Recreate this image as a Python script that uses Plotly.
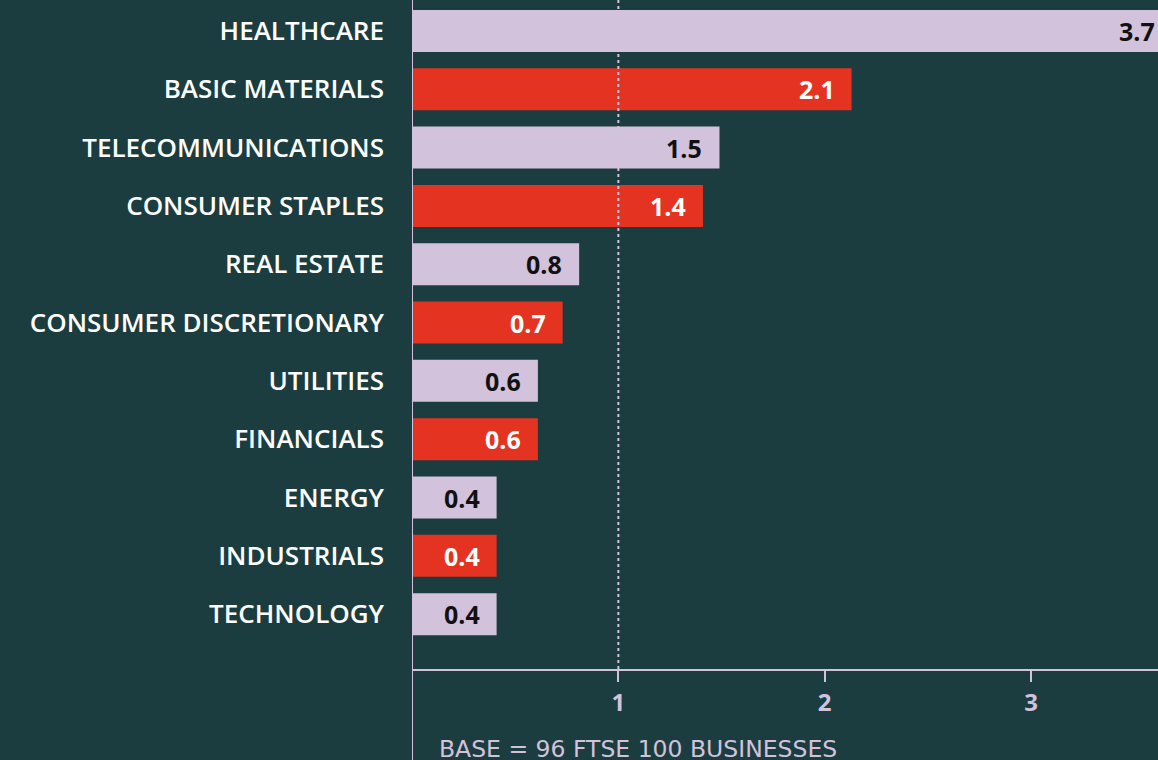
import plotly.graph_objects as go

# sector figures
sectors = ["HEALTHCARE", "BASIC MATERIALS", "TELECOMMUNICATIONS", "CONSUMER STAPLES",
           "REAL ESTATE", "CONSUMER DISCRETIONARY", "UTILITIES", "FINANCIALS",
           "ENERGY", "INDUSTRIALS", "TECHNOLOGY"]
values = [3.7, 2.13, 1.49, 1.41, 0.81, 0.73, 0.61, 0.61, 0.41, 0.41, 0.41]
labels = ["3.7", "2.1", "1.5", "1.4", "0.8", "0.7", "0.6", "0.6", "0.4", "0.4", "0.4"]
ticks = [1, 2, 3]

BG = "#1b3d40"
LAV = "#d3c2dc"
RED = "#e53321"
XMAX = 3.615
FONT = "Open Sans"
WIDE = "DejaVu Sans"

bar_colors = [LAV if i % 2 == 0 else RED for i in range(len(sectors))]
text_colors = ["#111111" if i % 2 == 0 else "white" for i in range(len(sectors))]

fig = go.Figure()
fig.add_trace(go.Bar(
    x=values, y=sectors, orientation="h",
    marker=dict(color=bar_colors, line_width=0),
    width=0.72, hoverinfo="skip",
))

# value labels inside the bar ends
for s, v, lab, c in zip(sectors, values, labels, text_colors):
    fig.add_annotation(
        x=min(v, XMAX), y=s, text=lab, showarrow=False,
        xanchor="right", xshift=-15 if v < XMAX else -1,
        font=dict(family=FONT, size=25, color=c, weight="bold"),
    )

# dotted reference line at 1
fig.add_shape(type="line", x0=1, x1=1, y0=0, y1=1, xref="x", yref="paper",
              line=dict(color=LAV, width=2, dash="dot"), layer="above")

# y axis line running past the x axis
fig.add_shape(type="line", x0=0, x1=0, y0=-0.14, y1=1, xref="x", yref="paper",
              line=dict(color=LAV, width=2), layer="above")

fig.add_annotation(
    x=(437 - 411.5) / 746.5, y=-(749 - 669) / 669, xref="paper", yref="paper",
    text="BASE = 96 FTSE 100 BUSINESSES", showarrow=False,
    xanchor="left", yanchor="middle",
    font=dict(family=WIDE, size=23.5, color=LAV),
)

fig.update_layout(
    width=1158, height=760,
    paper_bgcolor=BG, plot_bgcolor=BG,
    margin=dict(l=411.5, r=0, t=0, b=91),
    showlegend=False,
    bargap=0.28,
)
fig.update_xaxes(
    range=[0, XMAX], tickvals=ticks, showgrid=False, zeroline=False,
    showline=True, linecolor=LAV, linewidth=2,
    ticks="outside", ticklen=11, tickwidth=2, tickcolor=LAV,
    tickfont=dict(family=FONT, size=24, color=LAV, weight="bold"),
)
fig.update_yaxes(
    categoryorder="array", categoryarray=sectors,
    range=[10.94, -0.53], showgrid=False, zeroline=False, showline=False,
    ticks="", ticklabelstandoff=27,
    tickfont=dict(family=FONT, size=26, color="white", weight=600),
)

fig.write_html("out.html", config={"displayModeBar": False},
               post_script="document.body.style.margin='0';")
